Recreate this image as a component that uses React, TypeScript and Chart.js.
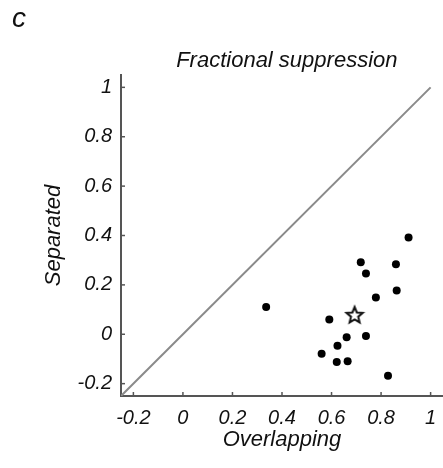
import React, { useEffect, useRef } from "react";
import { Chart, registerables } from "chart.js";

Chart.register(...registerables);

// Data
const overlapping = [0.336, 0.591, 0.718, 0.739, 0.86, 0.911, 0.779, 0.863, 0.661, 0.739, 0.624, 0.56, 0.621, 0.665, 0.828];
const separated = [0.11, 0.06, 0.292, 0.246, 0.284, 0.392, 0.149, 0.177, -0.012, -0.007, -0.047, -0.079, -0.112, -0.109, -0.168];
const meanOverlapping = [0.693];
const meanSeparated = [0.078];
const unityLine = [-0.25, 1];
const xTickValues = [-0.2, 0, 0.2, 0.4, 0.6, 0.8, 1];
const yTickValues = [-0.2, 0, 0.2, 0.4, 0.6, 0.8, 1];
const axisMin = -0.25;
const axisMax = 1.05;
const panelLabel = "c";
const chartTitle = "Fractional suppression";

const FONT = "'Liberation Sans', Arial, Helvetica, sans-serif";

function makeStar(): HTMLCanvasElement {
  const c = document.createElement("canvas");
  c.width = 22;
  c.height = 22;
  const g = c.getContext("2d")!;
  const cx = 11, cy = 11.5, R = 8.5, r = 3.8;
  g.beginPath();
  for (let i = 0; i < 10; i++) {
    const a = -Math.PI / 2 + (i * Math.PI) / 5;
    const rad = i % 2 === 0 ? R : r;
    const px = cx + rad * Math.cos(a);
    const py = cy + rad * Math.sin(a);
    if (i === 0) g.moveTo(px, py);
    else g.lineTo(px, py);
  }
  g.closePath();
  g.fillStyle = "#ffffff";
  g.fill();
  g.lineWidth = 2;
  g.strokeStyle = "#111111";
  g.lineJoin = "miter";
  g.stroke();
  return c;
}

const decorPlugin = {
  id: "decor",
  afterDraw(chart: any) {
    const { ctx, chartArea, scales } = chart;
    ctx.save();
    ctx.strokeStyle = "#555555";
    ctx.lineWidth = 1.5;
    const tl = 4;
    xTickValues.forEach((v) => {
      const x = scales.x.getPixelForValue(v);
      ctx.beginPath();
      ctx.moveTo(x, chartArea.bottom);
      ctx.lineTo(x, chartArea.bottom - tl);
      ctx.stroke();
    });
    yTickValues.forEach((v) => {
      const y = scales.y.getPixelForValue(v);
      ctx.beginPath();
      ctx.moveTo(chartArea.left, y);
      ctx.lineTo(chartArea.left + tl, y);
      ctx.stroke();
    });
    ctx.fillStyle = "#111111";
    ctx.font = `italic 28px ${FONT}`;
    ctx.textAlign = "left";
    ctx.textBaseline = "alphabetic";
    ctx.fillText(panelLabel, 12, 27);
    ctx.font = `italic 22px ${FONT}`;
    ctx.textAlign = "center";
    ctx.textBaseline = "middle";
    ctx.fillText(chartTitle, chartArea.left + (chartArea.right - chartArea.left) * 0.515, 61);
    ctx.restore();
  },
};

export default function App() {
  const ref = useRef<HTMLCanvasElement | null>(null);
  useEffect(() => {
    if (!ref.current) return;
    const tickFont = { family: FONT, size: 20, style: "italic" as const };
    const titleFont = { family: FONT, size: 22, style: "italic" as const, weight: "normal" as const };
    const chart = new Chart(ref.current, {
      type: "scatter",
      data: {
        datasets: [
          {
            type: "line",
            label: "unity",
            data: unityLine.map((v) => ({ x: v, y: v })),
            borderColor: "#8a8a8a",
            borderWidth: 2,
            pointRadius: 0,
            fill: false,
          },
          {
            label: "cells",
            data: overlapping.map((x, i) => ({ x, y: separated[i] })),
            backgroundColor: "#000000",
            borderColor: "#000000",
            pointRadius: 4,
            borderWidth: 0,
          },
          {
            label: "mean",
            data: meanOverlapping.map((x, i) => ({ x, y: meanSeparated[i] })),
            pointStyle: makeStar(),
            pointRadius: 10,
          },
        ],
      } as any,
      options: {
        animation: false,
        responsive: false,
        layout: { autoPadding: false, padding: { top: 75, left: 0, right: 0, bottom: 0 } },
        plugins: {
          legend: { display: false },
          tooltip: { enabled: false },
          title: { display: false },
        },
        scales: {
          x: {
            type: "linear",
            min: axisMin,
            max: axisMax,
            grid: { display: false, drawTicks: false },
            border: { display: true, color: "#555555", width: 2 },
            afterBuildTicks: (axis: any) => {
              axis.ticks = xTickValues.map((v) => ({ value: v }));
            },
            afterFit: (s: any) => {
              s.height = 72;
              s.paddingLeft = 0;
              s.paddingRight = 0;
            },
            ticks: {
              color: "#111111",
              font: tickFont,
              padding: 10,
              maxRotation: 0,
              autoSkip: false,
              callback: (v: any) => String(Math.round(Number(v) * 10) / 10),
            },
            title: {
              display: true,
              text: "Overlapping",
              color: "#111111",
              font: titleFont,
              padding: { top: 0, bottom: 15 },
            },
          },
          y: {
            type: "linear",
            min: axisMin,
            max: axisMax,
            grid: { display: false, drawTicks: false },
            border: { display: true, color: "#555555", width: 2 },
            afterBuildTicks: (axis: any) => {
              axis.ticks = yTickValues.map((v) => ({ value: v }));
            },
            afterFit: (s: any) => {
              s.width = 121;
              s.paddingTop = 0;
              s.paddingBottom = 0;
            },
            ticks: {
              color: "#111111",
              font: tickFont,
              padding: 9,
              autoSkip: false,
              callback: (v: any) => String(Math.round(Number(v) * 10) / 10),
            },
            title: {
              display: true,
              text: "Separated",
              color: "#111111",
              font: titleFont,
              padding: { top: 41, bottom: 0 },
            },
          },
        },
      },
      plugins: [decorPlugin],
    } as any);
    return () => chart.destroy();
  }, []);
  return (
    <div style={{ position: "fixed", left: 0, top: 0, width: 443, height: 468, background: "#ffffff" }}>
      <canvas ref={ref} width={443} height={468} style={{ width: 443, height: 468, display: "block" }} />
    </div>
  );
}
